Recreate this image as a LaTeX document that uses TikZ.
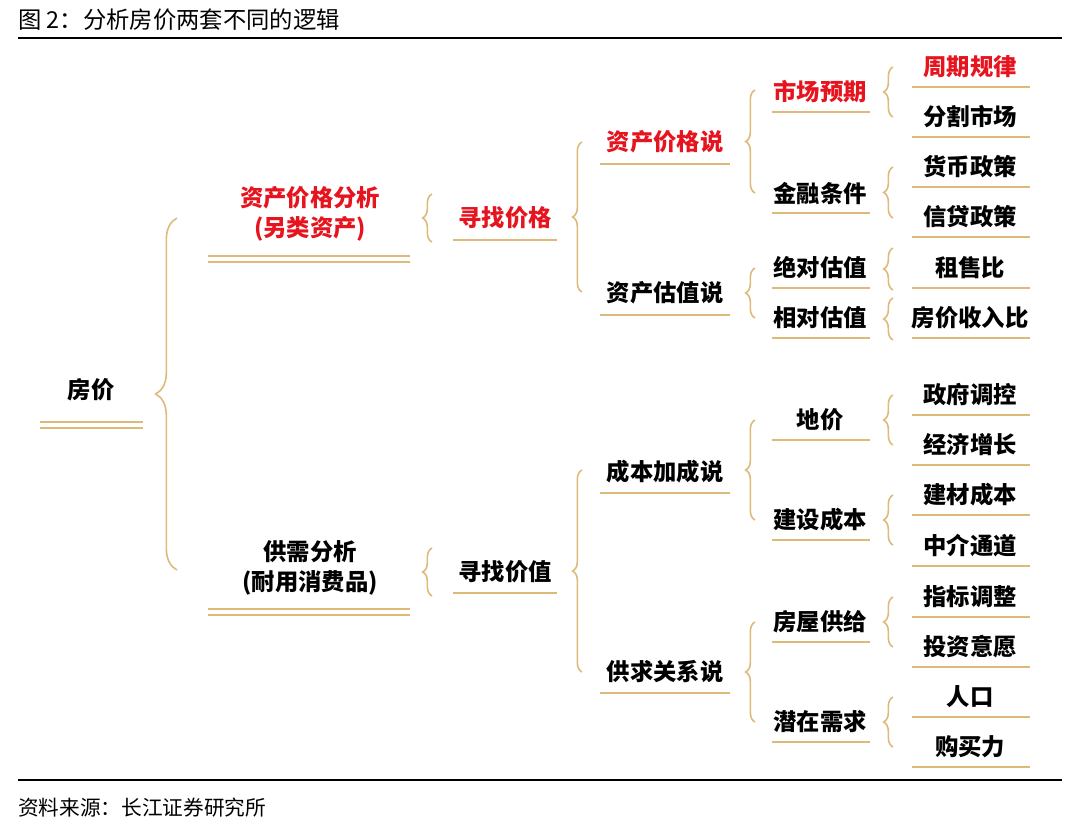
\documentclass[tikz,border=0pt]{standalone}
\usepackage{fontspec}
\setmainfont{Noto Sans CJK SC}
\usetikzlibrary{decorations.pathreplacing}
\definecolor{gold}{RGB}{222,186,122}
\definecolor{hred}{RGB}{230,20,30}
\begin{document}
\begin{tikzpicture}[x=0.75pt,y=-0.75pt,
  t/.style={font=\fontsize{17.5}{20}\selectfont\bfseries, inner sep=0pt},
  r/.style={t, text=hred},
  ul/.style={draw=gold, line width=1.6pt},
  br/.style={draw=gold, line width=1.2pt, decorate, decoration={brace, amplitude=#1}},
  br/.default=7pt]
\useasboundingbox (0,0) rectangle (1080,833);
\node[anchor=west, font=\fontsize{17.5}{20}\selectfont, inner sep=0pt] (title) at (18,20) {图\ 2：分析房价两套不同的逻辑};
\draw[line width=0.8pt] (18,38) -- (1062,38);
\draw[line width=0.8pt] (18,780) -- (1062,780);
\node[anchor=west, font=\fontsize{15.5}{18}\selectfont, inner sep=0pt] (src) at (18,808) {资料来源：长江证券研究所};
% level 0
\node[t] (fj) at (91,390) {房价};
\draw[ul] (40,422) -- (143,422); \draw[ul] (40,428) -- (143,428);
\draw[br=16pt] (177,570) -- (177,218);
% level 1
\node[r, align=center] (zcfx) at (310,214) {资产价格分析\\[3pt](另类资产)};
\draw[ul] (208,256) -- (410,256); \draw[ul] (208,262) -- (410,262);
\node[t, align=center] (gxfx) at (310,568) {供需分析\\[3pt](耐用消费品)};
\draw[ul] (208,609) -- (410,609); \draw[ul] (208,615) -- (410,615);
\draw[br] (432,242) -- (432,194);
\draw[br] (432,596) -- (432,548);
% level 2
\node[r] (xzjg) at (505,218) {寻找价格};
\draw[ul] (453,240) -- (557,240);
\node[t] (xzjz) at (505,572) {寻找价值};
\draw[ul] (453,593) -- (557,593);
\draw[br] (582,292) -- (582,142);
\draw[br] (582,672) -- (582,470);
% level 3
\node[r] (zcjgs) at (665,142) {资产价格说}; \draw[ul] (600,164) -- (730,164);
\node[t] (zcgzs) at (665,293) {资产估值说}; \draw[ul] (600,315) -- (730,315);
\node[t] (cbjcs) at (665,472) {成本加成说}; \draw[ul] (600,493) -- (730,493);
\node[t] (gqgxs) at (665,672) {供求关系说}; \draw[ul] (600,693) -- (730,693);
\draw[br] (755,193) -- (755,90);
\draw[br] (755,318) -- (755,268);
\draw[br] (755,520) -- (755,420);
\draw[br] (755,722) -- (755,622);
% level 4
\node[r] (scyq) at (820,92) {市场预期}; \draw[ul] (772,112) -- (870,112);
\node[t] (jrtj) at (820,193) {金融条件}; \draw[ul] (772,213) -- (870,213);
\node[t] (jdgz) at (820,268) {绝对估值}; \draw[ul] (772,288) -- (870,288);
\node[t] (xdgz) at (820,318) {相对估值}; \draw[ul] (772,338) -- (870,338);
\node[t] (dj) at (820,420) {地价}; \draw[ul] (772,440) -- (870,440);
\node[t] (jscb) at (820,520) {建设成本}; \draw[ul] (772,540) -- (870,540);
\node[t] (fwgj) at (820,622) {房屋供给}; \draw[ul] (772,642) -- (870,642);
\node[t] (qzxq) at (820,722) {潜在需求}; \draw[ul] (772,742) -- (870,742);
\draw[br] (893,117) -- (893,67);
\draw[br] (893,218) -- (893,167);
\draw[br] (893,290) -- (893,248);
\draw[br] (893,340) -- (893,298);
\draw[br] (893,445) -- (893,395);
\draw[br] (893,545) -- (893,495);
\draw[br] (893,647) -- (893,597);
\draw[br] (893,747) -- (893,697);
% leaves
\node[r] (l1) at (970,67) {周期规律};
\draw[ul] (912,87) -- (1030,87);
\foreach \n/\s/\y in {l2/分割市场/117,l3/货币政策/167,l4/信贷政策/217,l5/租售比/268,l6/房价收入比/318,l7/政府调控/395,l8/经济增长/445,l9/建材成本/495,l10/中介通道/546,l11/指标调整/597,l12/投资意愿/647,l13/人口/697,l14/购买力/747}{
  \node[t] (\n) at (970,\y) {\s};
  \draw[ul] (912,\y+20) -- (1030,\y+20);
}
\end{tikzpicture}
\end{document}
